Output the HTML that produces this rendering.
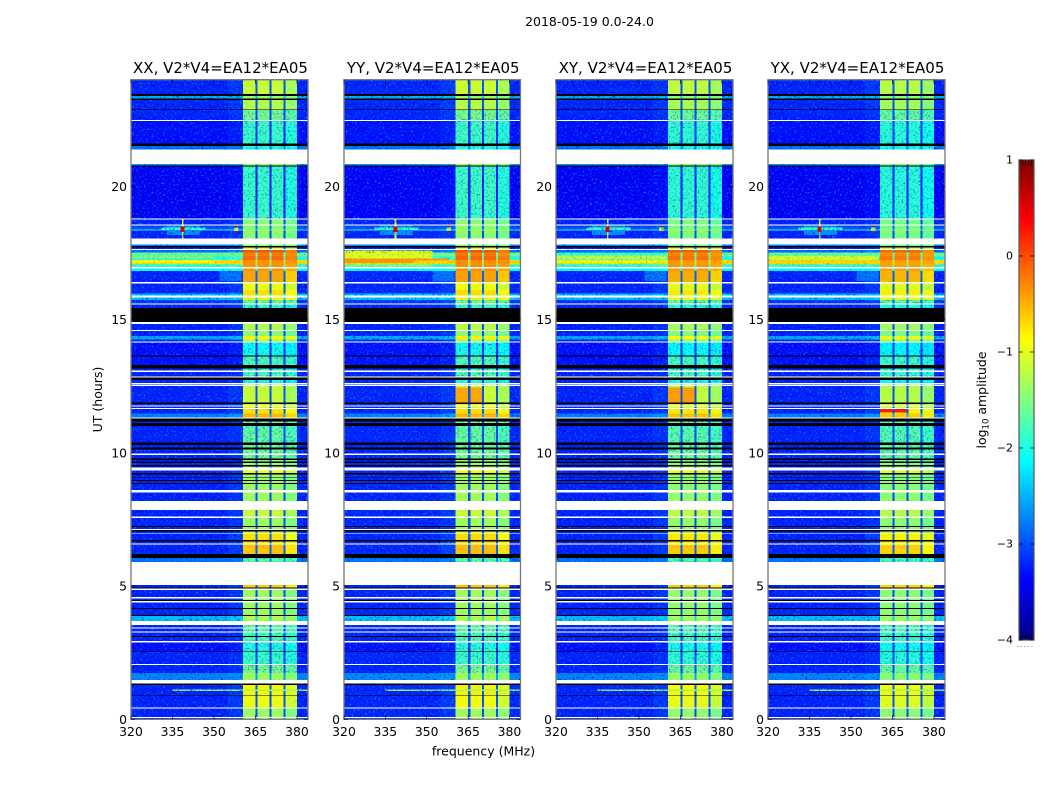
<!DOCTYPE html>
<html>
<head>
<meta charset="utf-8">
<title>2018-05-19 0.0-24.0</title>
<style>
html,body{margin:0;padding:0;background:#fff;width:1050px;height:800px;overflow:hidden}
svg{display:block}
text{font-family:"DejaVu Sans","Liberation Sans",sans-serif;fill:#000}
.tick{font-size:12.4px}
.ttl{font-size:15px}
.lab{font-size:12.5px}
</style>
</head>
<body>
<svg id="fig" xmlns="http://www.w3.org/2000/svg" width="1050" height="800" viewBox="0 0 1050 800">
  <defs>
    <filter id="speckle" x="0" y="0" width="100%" height="100%" color-interpolation-filters="sRGB">
      <feTurbulence type="fractalNoise" baseFrequency="0.52" numOctaves="1" seed="7" result="n"/>
      <feColorMatrix in="n" type="matrix" values="0 0 0 0 0  0 0 0 0 0.5  0 0 0 0 1  3.6 0 0 0 -1.95" result="light"/>
      <feColorMatrix in="n" type="matrix" values="0 0 0 0 0  0 0 0 0 0  0 0 0 0 0.68  0 3.4 0 0 -1.9" result="dark"/>
      <feMerge result="m"><feMergeNode in="dark"/><feMergeNode in="light"/></feMerge>
      <feComposite in="m" in2="SourceAlpha" operator="in"/>
    </filter>
  </defs>
  <text x="589.5" y="26" text-anchor="middle" class="lab">2018-05-19 0.0-24.0</text>
  <g id="panels"></g>
  <text x="483.5" y="755.5" text-anchor="middle" class="lab">frequency (MHz)</text>
  <text transform="translate(102,399.5) rotate(-90)" text-anchor="middle" class="lab">UT (hours)</text>
  <g id="colorbar"></g>
  <text transform="translate(986,400) rotate(-90)" text-anchor="middle" class="lab">log<tspan font-size="8.5" dy="2.5">10</tspan><tspan dy="-2.5"> amplitude</tspan></text>
  <line x1="1017" x2="1035" y1="646.5" y2="646.5" stroke="#888" stroke-width="1" stroke-dasharray="1 2.6"/>
</svg>
<script>
// ---- chart data ----
const W = null;   // flagged (blank) integration
const B = -9;     // zero amplitude, drawn black
const panelTitles = ["XX, V2*V4=EA12*EA05","YY, V2*V4=EA12*EA05","XY, V2*V4=EA12*EA05","YX, V2*V4=EA12*EA05"];
const freqTicks = [320,335,350,365,380];
const hourTicks = [0,5,10,15,20];
const colorTicks = [-4,-3,-2,-1,0,1];
const colorTickLabels = ["\u22124","\u22123","\u22122","\u22121","0","1"];
// integration rows, top edge in UT hours (the last row ends at 0)
const rowTopHours = [
23.99,23.46,23.39,23.29,23.24,22.89,22.86,22.49,22.45,21.61,
21.51,21.39,20.84,20.78,20.74,18.79,18.75,18.57,18.53,18.38,
18.34,18.05,17.82,17.76,17.71,17.64,17.61,17.52,17.38,17.23,
17.08,16.98,16.92,16.83,16.40,16.35,16.11,15.98,15.90,15.82,
15.73,15.61,15.56,15.43,14.90,14.84,14.61,14.57,14.38,14.26,
14.17,14.13,13.66,13.62,13.29,13.17,13.08,13.04,12.87,12.82,
12.73,12.61,12.57,12.54,12.51,11.89,11.83,11.78,11.74,11.68,
11.65,11.48,11.33,11.28,11.17,11.11,11.01,10.38,10.29,10.19,
10.13,9.98,9.92,9.79,9.73,9.67,9.62,9.54,9.48,9.44,
9.34,9.25,9.19,9.10,9.07,8.98,8.94,8.86,8.82,8.60,
8.51,8.20,7.85,7.61,7.56,7.25,7.22,7.14,7.10,7.05,
7.00,6.98,6.72,6.68,6.59,6.55,6.21,6.06,5.90,5.04,
4.95,4.90,4.85,4.58,4.54,4.48,4.43,4.38,4.18,4.13,
3.91,3.88,3.69,3.54,3.45,3.41,3.29,3.25,3.13,3.09,
2.93,2.89,2.55,2.53,2.08,2.04,1.73,1.47,1.35,1.29,
0.91,0.89,0.45,0.41,0.08,0.04];
// log10 amplitude outside the receiver band, per row
const rowBackground = [
-3.0,B,-2.3,B,-3.0,B,-3.0,W,-3.1,B,
-2.6,W,-2.4,B,-3.2,W,-3.0,W,-2.8,-1.8,
-3.0,W,-2.5,B,-3.0,W,-2.6,-1.4,-1.7,-0.5,
-1.6,W,-1.9,-3.0,W,-3.0,-3.0,-2.2,W,-2.2,
-2.9,W,-3.0,B,W,-3.0,W,-3.0,-2.3,-3.0,
W,-3.1,B,-3.1,B,-3.0,W,-3.0,W,B,
-3.0,W,-3.0,W,-3.0,B,-3.0,W,-3.0,W,
-3.0,-2.5,W,B,-3.0,B,-3.0,B,-3.0,B,
-3.0,W,-3.0,B,-3.0,B,-3.0,B,-3.0,W,
-3.0,B,-3.0,B,-3.0,B,-3.0,B,-3.0,W,
-3.0,W,-3.0,W,-3.0,B,-3.0,W,B,-3.0,
W,-3.0,B,-3.0,W,-3.0,B,-2.6,W,-3.0,
B,W,-3.0,W,-3.0,B,W,-3.0,B,-3.0,
B,-2.2,W,-3.0,W,-3.0,W,-3.0,B,-3.0,
W,-3.1,B,-3.0,W,-3.0,-2.5,W,B,-3.0,
B,-3.0,W,-3.0,W,-3.0];
// log10 amplitude inside the receiver band, per row
const rowBand = [
-1.0,B,-1.2,B,-1.1,B,-1.4,W,-1.7,B,
-1.8,W,-1.2,B,-1.7,W,-1.3,W,-1.3,-1.0,
-1.3,W,-1.3,B,-0.8,W,0.1,-0.1,0.0,-0.2,
-0.2,W,-0.2,-0.3,W,-0.8,-0.6,-0.6,W,-0.7,
-1.4,W,-1.7,B,W,-1.1,W,-1.3,-0.7,-1.2,
W,-1.9,B,-1.6,B,-1.7,W,-1.6,W,B,
-1.8,W,-1.2,W,-1.0,B,-0.9,W,-0.9,W,
-0.6,-0.4,W,B,-1.4,B,-1.5,B,-1.4,B,
-1.4,W,-1.4,B,-1.2,B,-1.2,B,-1.2,W,
-0.8,B,-1.2,B,-1.2,B,-1.2,B,-1.2,W,
-1.2,W,-1.0,W,-1.2,B,-1.2,W,B,-1.0,
W,-0.6,B,-0.6,W,-0.45,B,-1.5,W,-0.5,
B,W,-1.2,W,-1.2,B,W,-1.2,B,-1.2,
B,-1.1,W,-1.5,W,-1.5,W,-1.6,B,-1.6,
W,-1.8,B,-1.7,W,-1.4,-1.2,W,B,-0.7,
B,-0.8,W,-1.2,W,-1.2];
// frequency channel groups (MHz) and how much of the band level each carries
const channelEdges = [320,355,360.5,365,365.8,370,370.8,375.2,375.9,380,384];
const channelWeight = [0,0.05,1,0.12,1,0.12,1,0.12,0.93,0];
// per-polarisation level offsets: XX, YY, XY, YX
const polBackgroundOffset = [-0.22,-0.2,-0.22,-0.22];
const polBandOffset = [-0.14,-0.12,-0.18,-0.22];
// localised features: panel (-1 = all), hour range, frequency range, level
const featurePanel = [-1,-1,-1,-1,-1,-1,-1,-1,-1, 1,1,1,1, 2,2,2, 3,3,3, 0,0, 1,1,2,2,3,3];
const featureHourLo = [16.45,18.18,18.36,18.05,18.57,18.28,18.25,18.32,1.06, 17.30,17.12,17.12,16.98, 17.45,17.25,17.12, 17.38,17.23,17.10, 17.30,17.12, 11.89,11.89,11.89,11.89,11.52,11.52];
const featureHourHi = [16.83,18.53,18.46,18.53,18.75,18.5,18.53,18.46,1.12, 17.60,17.30,17.22,17.08, 17.52,17.38,17.23, 17.52,17.38,17.23, 17.38,17.23, 12.45,12.45,12.45,12.45,11.64,11.64];
const featureFreqLo = [352,333,331,338.4,338.4,337.9,357.7,357.2,335, 320,320,345,320, 320,320,320, 320,320,320, 320,320, 360.5,365.8,360.5,365.8,360.5,365.8];
const featureFreqHi = [360,345,347,339,339,339.4,358.3,358.8,384, 352,358,358,352, 360,360,360, 360,360,360, 350,350, 365,370,365,370,365,370];
const featureLevel = [-2.8,-2.65,-1.8,-0.9,-1.0,0.55,0.5,-1.2,-1.4, -1.0,-0.4,-0.7,-1.5, -1.9,-1.2,-1.0, -1.6,-1.1,-0.7, -1.5,-0.9, -0.45,-0.45,-0.4,-0.4,0.25,0.25];
// colorbar range and resolution
const colorMin = -4;
const colorMax = 1;
const colorSteps = 240;

// ---- layout ----
const svgNS = "http://www.w3.org/2000/svg";
const panelLeft = [131,344,556,768];
const panelRight = [308,520.5,733,945];
const axisTop = 79.7, axisBottom = 719.3, freqMin = 320, freqMax = 384, hourMax = 24;
const bandLowFreq = 360.5, bandHighFreq = 380;
function xScale(p,f){return panelLeft[p]+(f-freqMin)/(freqMax-freqMin)*(panelRight[p]-panelLeft[p]);}
function yScale(h){return axisBottom-h/hourMax*(axisBottom-axisTop);}
const cbTop = 160, cbBottom = 640, cbLeft = 1019, cbRight = 1034;
function cbY(v){return cbBottom-(v-colorMin)/(colorMax-colorMin)*(cbBottom-cbTop);}
function clamp(x){return Math.max(0,Math.min(1,x));}
function jet(v){
  const t = clamp((v-colorMin)/(colorMax-colorMin));
  const r = clamp(Math.min(4*t-1.5,-4*t+4.5));
  const g = clamp(Math.min(4*t-0.5,-4*t+3.5));
  const b = clamp(Math.min(4*t+0.5,-4*t+2.5));
  return "rgb("+Math.round(r*255)+","+Math.round(g*255)+","+Math.round(b*255)+")";
}
function mk(tag,parent,attrs){
  const e = document.createElementNS(svgNS,tag);
  for(const k in attrs){e.setAttribute(k,attrs[k]);}
  parent.appendChild(e);
  return e;
}
const panelsRoot = document.getElementById("panels");
panelTitles.forEach(function(title,p){
  const g = mk("g",panelsRoot,{});
  
  
  const cells = mk("g",g,{"shape-rendering":"crispEdges"});
  
  
  const specks = mk("g",g,{"shape-rendering":"crispEdges",filter:"url(#speckle)"});
  
  
  rowTopHours.forEach(function(top,i){
    const bottom = i+1<rowTopHours.length ? rowTopHours[i+1] : 0;
    const y0 = yScale(top), y1 = yScale(bottom);
    const bg = rowBackground[i], band = rowBand[i];
    if(bg===W){return;}
    if(bg===B){
      const blk = mk("rect",cells,{x:xScale(p,freqMin),y:y0,width:xScale(p,freqMax)-xScale(p,freqMin),height:y1-y0,fill:"#000"});
      
      
      return;
    }
    const bgV = bg+polBackgroundOffset[p], bandV = band+polBandOffset[p];
    channelWeight.forEach(function(w,c){
      const x0 = xScale(p,channelEdges[c]), x1 = xScale(p,channelEdges[c+1]);
      const cell = mk("rect",cells,{x:x0,y:y0,width:x1-x0,height:y1-y0,fill:jet(bgV+w*(bandV-bgV))});
      
      
    });
  });
  featureLevel.forEach(function(level,k){
    if(featurePanel[k]!==-1 && featurePanel[k]!==p){return;}
    const x0 = xScale(p,featureFreqLo[k]), x1 = xScale(p,featureFreqHi[k]);
    const y0 = yScale(featureHourHi[k]), y1 = yScale(featureHourLo[k]);
    const f = mk("rect",cells,{x:x0,y:y0,width:x1-x0,height:y1-y0,fill:jet(level)});
    
    
  });
  rowTopHours.forEach(function(top,i){
    if(rowBackground[i]===W||rowBackground[i]===B){return;}
    const bottom = i+1<rowTopHours.length ? rowTopHours[i+1] : 0;
    const y0 = yScale(top), h = yScale(bottom)-y0;
    const bgAlpha = rowBackground[i]>-2 ? 0.3 : 1;
    const bandAlpha = rowBand[i]<-1.3 ? 0.65 : 0.12;
    const s1 = mk("rect",specks,{x:xScale(p,freqMin),y:y0,width:xScale(p,bandLowFreq)-xScale(p,freqMin),height:h,fill:"#000","fill-opacity":bgAlpha});
    
    
    const s2 = mk("rect",specks,{x:xScale(p,bandLowFreq),y:y0,width:xScale(p,bandHighFreq)-xScale(p,bandLowFreq),height:h,fill:"#000","fill-opacity":bandAlpha});
    
    
    const s3 = mk("rect",specks,{x:xScale(p,bandHighFreq),y:y0,width:xScale(p,freqMax)-xScale(p,bandHighFreq),height:h,fill:"#000","fill-opacity":bgAlpha});
    
    
  });
  const frame = mk("rect",g,{x:panelLeft[p],y:axisTop,width:panelRight[p]-panelLeft[p],height:axisBottom-axisTop,fill:"none",stroke:"#777","stroke-width":1.3});
  
  
  const t = mk("text",g,{x:(panelLeft[p]+panelRight[p])/2+1,y:73,"text-anchor":"middle","class":"ttl"});
  t.textContent = title;
  
  
  freqTicks.forEach(function(f){
    const x = xScale(p,f);
    const m1 = mk("line",g,{x1:x,x2:x,y1:axisBottom,y2:axisBottom-4,stroke:"#000","stroke-width":0.6});
    
    
    const m2 = mk("line",g,{x1:x,x2:x,y1:axisTop,y2:axisTop+4,stroke:"#000","stroke-width":0.6});
    
    
    const l = mk("text",g,{x:x,y:736,"text-anchor":"middle","class":"tick"});
    l.textContent = f;
    
    
  });
  hourTicks.forEach(function(h){
    const y = yScale(h);
    const m1 = mk("line",g,{x1:panelLeft[p],x2:panelLeft[p]+4,y1:y,y2:y,stroke:"#000","stroke-width":0.6});
    
    
    const m2 = mk("line",g,{x1:panelRight[p],x2:panelRight[p]-4,y1:y,y2:y,stroke:"#000","stroke-width":0.6});
    
    
    const l = mk("text",g,{x:panelLeft[p]-4,y:y+4.5,"text-anchor":"end","class":"tick"});
    l.textContent = h;
    
    
  });
});
// colorbar
const cb = document.getElementById("colorbar");
const cbStrip = mk("g",cb,{"shape-rendering":"crispEdges"});


for(let i=0;i<colorSteps;i++){
  const lo = colorMin+(colorMax-colorMin)*i/colorSteps;
  const hi = colorMin+(colorMax-colorMin)*(i+1)/colorSteps;
  const r = mk("rect",cbStrip,{x:cbLeft,y:cbY(hi),width:cbRight-cbLeft,height:cbY(lo)-cbY(hi)+0.5,fill:jet((lo+hi)/2)});
  
  
}
const cbFrame = mk("rect",cb,{x:cbLeft,y:cbTop,width:cbRight-cbLeft,height:cbBottom-cbTop,fill:"none",stroke:"#555","stroke-width":1.2});


colorTicks.forEach(function(v,i){
  const y = cbY(v);
  const a = mk("line",cb,{x1:cbLeft,x2:cbLeft+4,y1:y,y2:y,stroke:"#000","stroke-width":0.7});
  
  
  const b = mk("line",cb,{x1:cbRight,x2:cbRight-4,y1:y,y2:y,stroke:"#000","stroke-width":0.7});
  
  
  const l = mk("text",cb,{x:cbLeft-6,y:y+3.5,"text-anchor":"end",style:"font-size:11px"});
  l.textContent = colorTickLabels[i];
  
  
});
[1022.5,1025.5,1028.5,1031.5].forEach(function(x){
  const t1 = mk("line",cb,{x1:x,x2:x,y1:cbTop,y2:cbTop+6,stroke:"#000","stroke-width":0.7});
  
  
  const t2 = mk("line",cb,{x1:x,x2:x,y1:cbBottom,y2:cbBottom-6,stroke:"#000","stroke-width":0.7});
  
  
});
</script>
</body>
</html>
